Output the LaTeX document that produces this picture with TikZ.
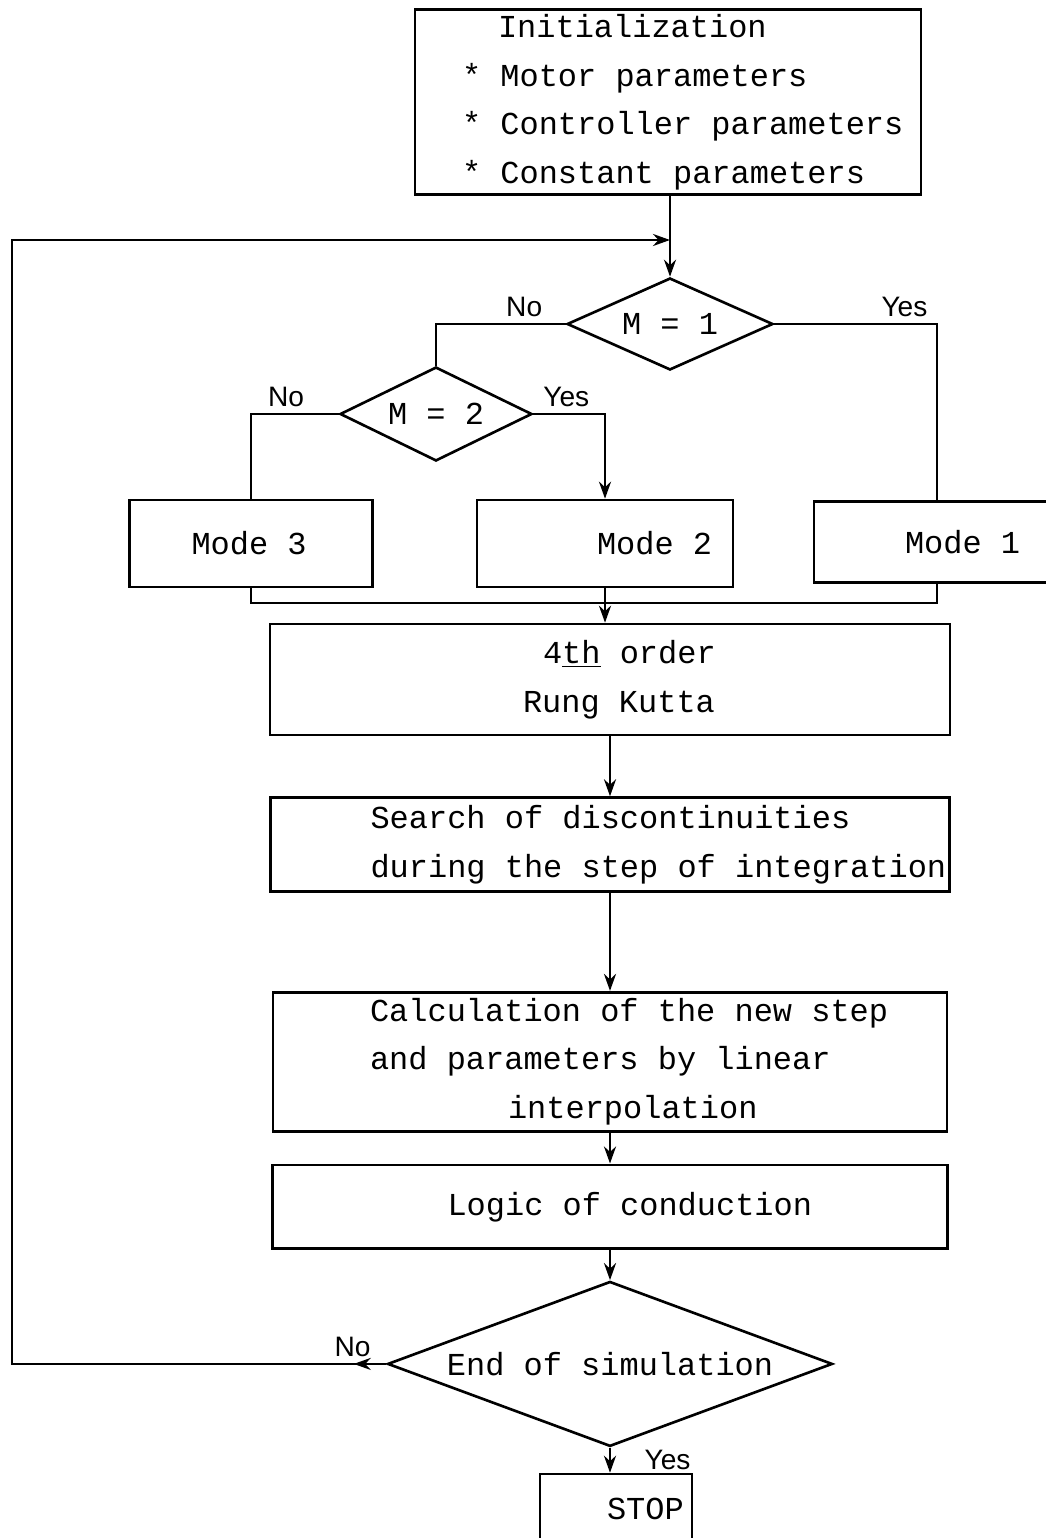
\documentclass[tikz,border=0pt]{standalone}
\usepackage{fontspec}
\setmainfont{Liberation Mono}
\newfontfamily\labfont{Liberation Sans}
\usetikzlibrary{shapes.geometric, arrows.meta, positioning, decorations.markings}

\begin{document}
\begin{tikzpicture}[x=0.02cm, y=-0.02cm, line width=1.5pt,
        font=\fontsize{18.2}{27.6}\selectfont,
        box/.style={draw, text width=#1, align=left, inner sep=0pt,
            execute at begin node={\spaceskip=0.6em\relax}},
        test/.style={draw, shape=diamond, inner sep=0pt, align=center},
        arr/.style={-{Stealth[length=0.34cm, width=0.24cm]}},
        lab/.style={font=\labfont\fontsize{16}{18}\selectfont}]

        \useasboundingbox (0,0) rectangle (1045,1538);

        \node[box=10.12cm, minimum height=3.7cm] (init) at (668,102) {\hspace*{1.66cm}Initialization\\
            \hspace*{0.94cm}* Motor parameters\\
            \hspace*{0.94cm}* Controller parameters\\
            \hspace*{0.94cm}* Constant parameters};

        \node[test, aspect=2.24, minimum width=4.12cm, minimum height=1.84cm] (m1) at (670,324) {M = 1};
        \node[test, aspect=2.04, minimum width=3.84cm, minimum height=1.88cm] (m2) at (436,414) {M = 2};

        \node[box=4.86cm, minimum height=1.74cm] (mode3) at (251,543.5) {\hspace*{1.24cm}Mode 3};
        \node[box=5.12cm, minimum height=1.74cm] (mode2) at (605,543.5) {\hspace*{2.4cm}Mode 2};
        \node[box=4.92cm, minimum height=1.62cm] (mode1) at (937,542) {\hspace*{1.82cm}Mode 1};

        \node[box=13.6cm, minimum height=2.22cm] (rk) at (610,679.5) {\hspace*{5.46cm}4\underline{th} order\\
            \hspace*{5.06cm}Rung Kutta};
        \node[box=13.58cm, minimum height=1.88cm, below=1.2cm of rk] (search) {\hspace*{2cm}Search of discontinuities\\
            \hspace*{2cm}during the step of integration};
        \node[box=13.48cm, minimum height=2.78cm, below=1.96cm of search] (calc) {\hspace*{1.94cm}Calculation of the new step\\
            \hspace*{1.94cm}and parameters by linear\\
            \hspace*{4.7cm}interpolation};
        \node[box=13.5cm, minimum height=1.68cm, below=0.62cm of calc] (logic) {\hspace*{3.5cm}Logic of conduction};
        \node[test, aspect=2.68, minimum width=8.9cm, minimum height=3.3cm, below=0.6cm of logic] (endsim) {End of simulation};
        \node[box=3.04cm, minimum height=1.4cm, below=0.5cm of endsim, xshift=0.12cm] (stop) {\hspace*{1.34cm}STOP};

        % loop back
        \coordinate (jn) at (m1.north |- 0,240);
        \coordinate (lp) at (12,240);

        \draw[arr] (m1.north |- init.south) -- (m1.north);
        \draw[arr, postaction={decorate}, decoration={markings,
            mark=at position 0.65cm with {\arrow{Stealth[length=0.34cm, width=0.24cm]}}}]
            (endsim.west) -| node[lab, pos=0.045, above] {No} (lp) -- (jn);

        \draw (m1.west) -| node[lab, pos=0.16, above] {No} (m2.north);
        \draw (m1.east) -| node[lab, pos=0.4, above] {Yes} (mode1.north);
        \draw (m2.west) -| node[lab, pos=0.3, above] {No} (mode3.north);
        \draw[arr] (m2.east) -| node[lab, pos=0.23, above] {Yes} (mode2.north);

        % merge of the modes
        \coordinate (mg) at (mode2.south |- 0,603);
        \draw (mode3.south) |- (mg) -| (mode1.south);
        \draw[arr] (mode2.south) -- (mode2.south |- rk.north);

        \draw[arr] (rk.south) -- (search.north);
        \draw[arr] (search.south) -- (calc.north);
        \draw[arr] (calc.south) -- (logic.north);
        \draw[arr] (logic.south) -- (endsim.north);
        \draw[arr] (endsim.south) -- node[lab, right=0.55cm] {Yes} (endsim.south |- stop.north);
\end{tikzpicture}
\end{document}
